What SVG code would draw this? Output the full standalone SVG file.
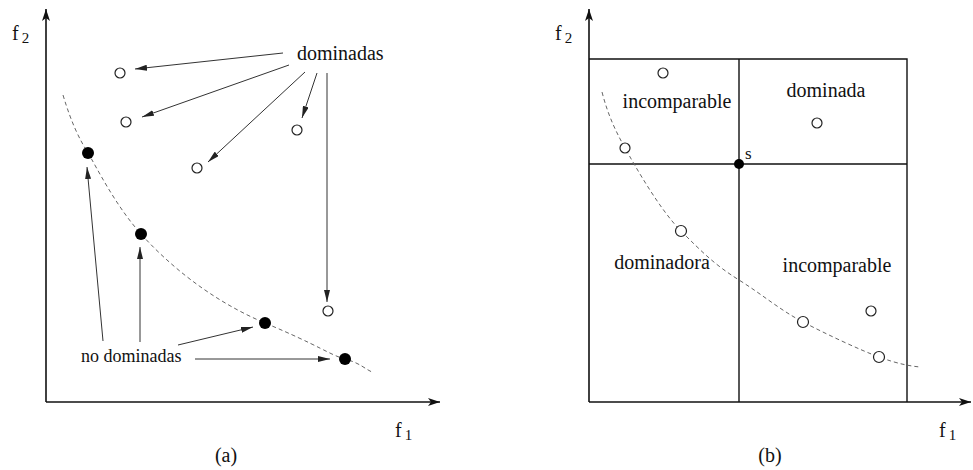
<svg xmlns="http://www.w3.org/2000/svg" width="973" height="470" viewBox="0 0 973 470">
<style>
text{font-family:'Liberation Serif','Times New Roman',serif;fill:#111;font-size:20px}
.ax{stroke:#111;stroke-width:1.6;fill:none}
.box{stroke:#111;stroke-width:1.4;fill:none}
.cur{stroke:#666;stroke-width:1;stroke-dasharray:4,3;fill:none}
.arr{stroke:#333;stroke-width:1;fill:none;marker-end:url(#ah)}
.open{fill:#fff;stroke:#222;stroke-width:1.2}
.fill{fill:#000}
.sub{font-size:15px}
</style>
<defs>
<marker id="ah" viewBox="0 0 12 6" refX="12" refY="3" markerWidth="12" markerHeight="6" markerUnits="userSpaceOnUse" orient="auto"><path d="M0,0 L12,3 L0,6 Z" fill="#222"/></marker>
<marker id="axh" viewBox="0 0 12 8" refX="12" refY="4" markerWidth="12" markerHeight="8" markerUnits="userSpaceOnUse" orient="auto"><path d="M0,0 L12,4 L0,8 L3,4 Z" fill="#111"/></marker>
</defs>
<rect width="973" height="470" fill="#fff"/>
<g id="axes-a">
<path class="ax" d="M46,402 V9" marker-end="url(#axh)"/>
<path class="ax" d="M46,402 H440" marker-end="url(#axh)"/>
<text x="12" y="40">f<tspan class="sub" dx="3" dy="3">2</tspan></text>
<text x="395" y="437">f<tspan class="sub" dx="3" dy="3">1</tspan></text>
<text x="226" y="462" text-anchor="middle">(a)</text>
</g>
<g id="curve-a"><path class="cur" d="M63,95 C72,125 80,140 88,153 S115,205 141,234 S210,300 265,323 S330,355 345,359 S365,369 372,372"/></g>
<g id="connectors">
<path class="arr" d="M283,53 L135,69"/>
<path class="arr" d="M289,65 L142,117"/>
<path class="arr" d="M305,72 L208,162"/>
<path class="arr" d="M317,73 L302,118"/>
<path class="arr" d="M327,73 L327,302"/>
<path class="arr" d="M103,341 L87,167"/>
<path class="arr" d="M140,342 L140,247"/>
<path class="arr" d="M178,345 L253,327"/>
<path class="arr" d="M195,359 L330,359"/>
</g>
<g id="dominadas"><text x="297" y="60">dominadas</text></g>
<g id="nodominadas"><text x="81" y="362" style="font-size:18px">no dominadas</text></g>
<g id="points-a">
<circle class="open" cx="120" cy="73" r="5"/>
<circle class="open" cx="126" cy="122" r="5"/>
<circle class="open" cx="197" cy="168" r="5"/>
<circle class="open" cx="297" cy="130" r="5"/>
<circle class="open" cx="328" cy="311" r="5"/>
<circle class="fill" cx="88" cy="153" r="6"/>
<circle class="fill" cx="141" cy="234" r="6"/>
<circle class="fill" cx="265" cy="323" r="6"/>
<circle class="fill" cx="345" cy="359" r="6"/>
</g>
<g id="axes-b">
<path class="ax" d="M589,402 V9" marker-end="url(#axh)"/>
<path class="ax" d="M589,402 H971" marker-end="url(#axh)"/>
<text x="555" y="40">f<tspan class="sub" dx="3" dy="3">2</tspan></text>
<text x="939" y="437">f<tspan class="sub" dx="3" dy="3">1</tspan></text>
<text x="770" y="462" text-anchor="middle">(b)</text>
</g>
<g id="grid-b">
<path class="box" d="M589,59 H907 V402 M739,59 V402 M589,164 H907"/>
</g>
<g id="curve-b"><path class="cur" d="M602,92 C608,115 615,130 625,148 S660,210 681,231 S715,265 739,280 S780,310 803,322 S860,350 879,357 S910,366 920,367"/></g>
<g id="labels-b">
<text x="677" y="108" text-anchor="middle">incomparable</text>
<text x="826" y="97" text-anchor="middle">dominada</text>
<text x="662" y="269" text-anchor="middle">dominadora</text>
<text x="837" y="272" text-anchor="middle">incomparable</text>
<text x="745" y="159" style="font-size:17px">s</text>
</g>
<g id="points-b">
<circle class="fill" cx="739" cy="164" r="5"/>
<circle class="open" cx="663" cy="73" r="5"/>
<circle class="open" cx="817" cy="123" r="5"/>
<circle class="open" cx="625" cy="148" r="5"/>
<circle class="open" cx="681" cy="231" r="5.5"/>
<circle class="open" cx="803" cy="322" r="5.5"/>
<circle class="open" cx="871" cy="311" r="5"/>
<circle class="open" cx="879" cy="357" r="5.5"/>
</g>
</svg>
